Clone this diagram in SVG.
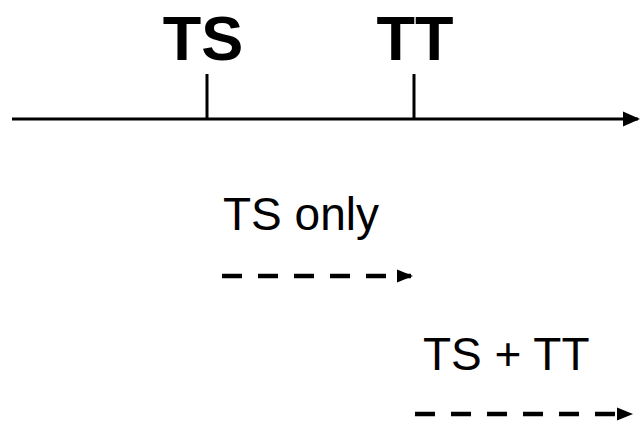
<svg xmlns="http://www.w3.org/2000/svg" width="643" height="423" viewBox="0 0 643 423">
<style>
.lbl{font-family:"Liberation Sans",Arial,sans-serif;fill:#000}
.big{font-size:63px;font-weight:bold}
.sm{font-size:46px}
.ln{stroke:#000;stroke-width:3;fill:none}
.dash{stroke:#000;stroke-width:4.5;fill:none;stroke-dasharray:20 16}
</style>
<defs>
<marker id="ah" markerWidth="18" markerHeight="18" refX="15" refY="9" orient="auto" markerUnits="userSpaceOnUse"><path d="M0,1.5 L17,9 L0,16.5 z" fill="#000"/></marker>
<marker id="ah2" markerWidth="18" markerHeight="18" refX="14" refY="9" orient="auto" markerUnits="userSpaceOnUse"><path d="M0,2.5 L16,9 L0,15.5 z" fill="#000"/></marker>
</defs>
<rect width="643" height="423" fill="#fff"/>
<g id="connectors">
<line class="ln" x1="12" y1="119" x2="638" y2="119" marker-end="url(#ah)"/>
<line class="ln" x1="207" y1="74" x2="207" y2="119"/>
<line class="ln" x1="414" y1="74" x2="414" y2="119"/>
<line class="dash" x1="222" y1="276" x2="411" y2="276" marker-end="url(#ah2)"/>
<line class="dash" x1="415" y1="414" x2="631" y2="414" marker-end="url(#ah2)"/>
</g>
<g id="node-ts"><text class="lbl big" x="203" y="60" text-anchor="middle">TS</text></g>
<g id="node-tt"><text class="lbl big" x="415" y="60" text-anchor="middle">TT</text></g>
<g id="label-ts-only"><text class="lbl sm" x="223" y="230">TS only</text></g>
<g id="label-ts-tt"><text class="lbl sm" x="423" y="370">TS + TT</text></g>
</svg>
